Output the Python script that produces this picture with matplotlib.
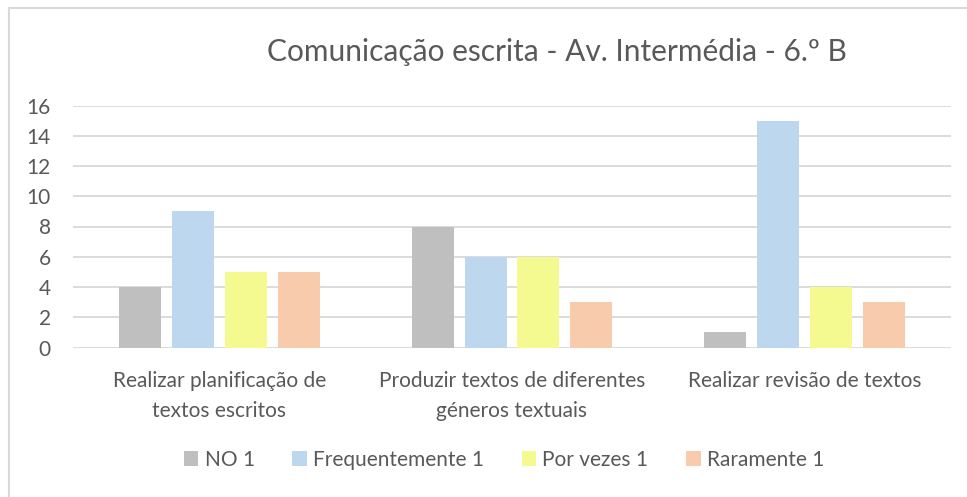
import numpy as np
import matplotlib.pyplot as plt
from matplotlib.patches import Rectangle, Patch

categories = ['Realizar planificação de\ntextos escritos',
              'Produzir textos de diferentes\ngéneros textuais',
              'Realizar revisão de textos']
series = ['NO 1', 'Frequentemente 1', 'Por vezes 1', 'Raramente 1']
no_1 = [4, 8, 1]
frequentemente_1 = [9, 6, 15]
por_vezes_1 = [5, 6, 4]
raramente_1 = [5, 3, 3]
values = [no_1, frequentemente_1, por_vezes_1, raramente_1]
colors = ['#BFBFBF', '#BDD7EE', '#F4FA90', '#F8CBAD']

plt.rcParams['font.family'] = ['Lato', 'DejaVu Sans']
txt = '#595959'

W, H = 967, 497
fig = plt.figure(figsize=(W / 100, H / 100), dpi=100)

# outer chart frame (cut off at right and bottom in the reference)
fig.patches.append(Rectangle((8.5 / W, -0.1), 1.2, 1.1 - 7.5 / H,
                             transform=fig.transFigure, fill=False,
                             edgecolor='#D9D9D9', lw=1.5))

ax = fig.add_axes([73 / W, 1 - 347.5 / H, (951 - 73) / W, (347.5 - 105.5) / H])
x = np.arange(len(categories))
step = 0.181
width = 0.1435
for i, (name, vals, c) in enumerate(zip(series, values, colors)):
    ax.bar(x + (i - 1.5) * step, vals, width, color=c, label=name, zorder=2)

ax.set_xlim(-0.5, 2.5)
ax.set_ylim(0, 16)
ax.set_yticks(range(0, 17, 2))
ax.yaxis.grid(True, color='#D9D9D9', lw=1.3, zorder=0)
for s in ax.spines.values():
    s.set_visible(False)
ax.tick_params(length=0, labelsize=15, colors=txt)
ax.tick_params(axis='y', pad=16)
ax.set_xticks(x)
ax.set_xticklabels(categories, fontsize=15, color=txt, linespacing=1.6)
ax.tick_params(axis='x', pad=17)

fig.text(557 / W, 1 - 52 / H, 'Comunicação escrita - Av. Intermédia - 6.º B',
         ha='center', va='center', fontsize=21.5, color=txt)

handles = [Patch(facecolor=c) for c in colors]
fig.legend(handles, series, loc='center', bbox_to_anchor=(504 / W, 1 - 460 / H),
           ncol=4, frameon=False, fontsize=15, labelcolor=txt,
           handlelength=0.7, handleheight=0.7, handletextpad=0.3,
           columnspacing=1.8)

fig.savefig('out.png', dpi=100)
